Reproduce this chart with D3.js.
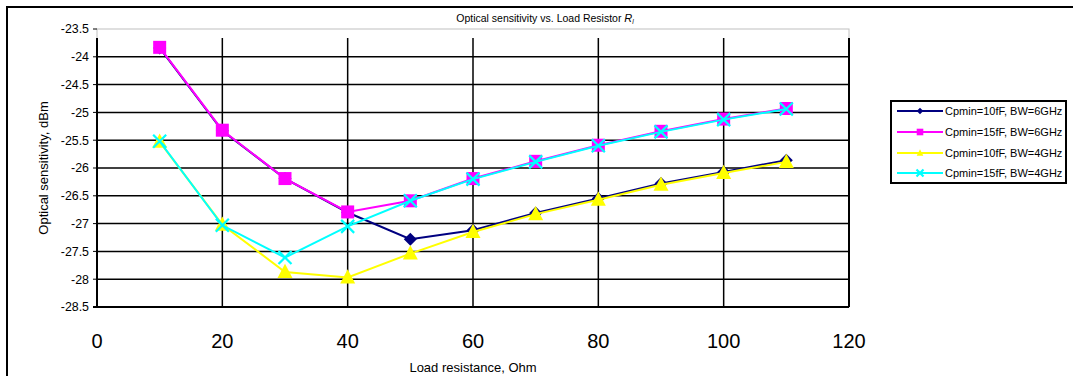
<!DOCTYPE html>
<html lang="en">
<head>
<meta charset="utf-8" />
<title>Optical sensitivity vs. Load Resistor</title>
<script src="https://d3js.org/d3.v7.min.js"></script>
<style>
body { margin: 0; background: #fff; }
svg { display: block; font-family: Arial, 'Liberation Sans', sans-serif; }
</style>
</head>
<body>
<svg width="1073" height="376"></svg>
<script>
// data
var loads = [10, 20, 30, 40, 50, 60, 70, 80, 90, 100, 110];
var c10bw6 = [-23.84, -25.33, -26.19, -26.80, -27.28, -27.12, -26.81, -26.55, -26.28, -26.07, -25.86];
var c15bw6 = [-23.83, -25.32, -26.19, -26.79, -26.59, -26.19, -25.88, -25.59, -25.34, -25.12, -24.93];
var c10bw4 = [-25.53, -27.02, -27.87, -27.97, -27.54, -27.15, -26.83, -26.57, -26.30, -26.09, -25.89];
var c15bw4 = [-25.52, -27.03, -27.61, -27.05, -26.59, -26.20, -25.89, -25.60, -25.35, -25.13, -24.94];
var seriesNames = ['Cpmin=10fF, BW=6GHz', 'Cpmin=15fF, BW=6GHz', 'Cpmin=10fF, BW=4GHz', 'Cpmin=15fF, BW=4GHz'];
var xTicks = [0, 20, 40, 60, 80, 100, 120];
var yTicks = [-23.5, -24, -24.5, -25, -25.5, -26, -26.5, -27, -27.5, -28, -28.5];

var series = [
  { name: seriesNames[0], values: c10bw6, color: '#000080', marker: 'diamond' },
  { name: seriesNames[1], values: c15bw6, color: '#ff00ff', marker: 'square' },
  { name: seriesNames[2], values: c10bw4, color: '#ffff00', marker: 'triangle' },
  { name: seriesNames[3], values: c15bw4, color: '#00ffff', marker: 'x' }
];

var svg = d3.select('svg');

// chart border (cropped at right/bottom)
svg.append('rect')
  .attr('x', 7).attr('y', 7)
  .attr('width', 1080).attr('height', 380)
  .attr('fill', 'none').attr('stroke', '#000').attr('stroke-width', 2);

var pLeft = 97, pRight = 849, pTop = 29, pBottom = 307, gridTop = 38;

var x = d3.scaleLinear().domain([0, 120]).range([pLeft, pRight]);
var y = d3.scaleLinear().domain([-28.5, -23.5]).range([pBottom, pTop]);

// plot area outline
svg.append('rect')
  .attr('x', pLeft).attr('y', pTop)
  .attr('width', pRight - pLeft).attr('height', pBottom - pTop)
  .attr('fill', 'none').attr('stroke', '#c0c0c0').attr('stroke-width', 1);

// horizontal gridlines
svg.append('g')
  .selectAll('line')
  .data(yTicks.filter(function (d) { return d < -23.5 && d > -28.5; }))
  .enter().append('line')
  .attr('x1', pLeft).attr('x2', pRight)
  .attr('y1', function (d) { return y(d); })
  .attr('y2', function (d) { return y(d); })
  .attr('stroke', '#000').attr('stroke-width', 1.5);

// vertical gridlines
svg.append('g')
  .selectAll('line')
  .data(xTicks.filter(function (d) { return d > 0; }))
  .enter().append('line')
  .attr('x1', function (d) { return x(d); })
  .attr('x2', function (d) { return x(d); })
  .attr('y1', gridTop).attr('y2', pBottom)
  .attr('stroke', '#000').attr('stroke-width', function (d) { return d === 120 ? 2 : 1.5; });

// axes lines
svg.append('line')
  .attr('x1', pLeft).attr('x2', pLeft).attr('y1', gridTop).attr('y2', pBottom)
  .attr('stroke', '#000').attr('stroke-width', 2);
svg.append('line')
  .attr('x1', pLeft - 4).attr('x2', pRight).attr('y1', pBottom).attr('y2', pBottom)
  .attr('stroke', '#000').attr('stroke-width', 2);

// y tick labels with small ticks
var yAxis = svg.append('g');
yAxis.selectAll('line')
  .data(yTicks)
  .enter().append('line')
  .attr('x1', pLeft - 4).attr('x2', pLeft)
  .attr('y1', function (d) { return y(d); })
  .attr('y2', function (d) { return y(d); })
  .attr('stroke', '#000').attr('stroke-width', 1);
yAxis.selectAll('text')
  .data(yTicks)
  .enter().append('text')
  .attr('x', pLeft - 8)
  .attr('y', function (d) { return y(d); })
  .attr('dy', '0.35em')
  .attr('text-anchor', 'end')
  .attr('font-size', 12.4)
  .text(function (d) { return d; });

// x tick labels
svg.append('g')
  .selectAll('text')
  .data(xTicks)
  .enter().append('text')
  .attr('x', function (d) { return x(d); })
  .attr('y', 341)
  .attr('dy', '0.35em')
  .attr('text-anchor', 'middle')
  .attr('font-size', 20)
  .text(function (d) { return d; });

// axis titles
svg.append('text')
  .attr('x', x(60)).attr('y', 367)
  .attr('dy', '0.35em')
  .attr('text-anchor', 'middle')
  .attr('font-size', 13)
  .text('Load resistance, Ohm');

svg.append('text')
  .attr('transform', 'translate(43,' + ((pTop + pBottom) / 2) + ') rotate(-90)')
  .attr('text-anchor', 'middle')
  .attr('dy', '0.35em')
  .attr('font-size', 13)
  .text('Optical sensitivity, dBm');

var title = svg.append('text')
  .attr('x', 545).attr('y', 18)
  .attr('dy', '0.35em')
  .attr('text-anchor', 'middle')
  .attr('font-size', 10.5);
title.append('tspan').text('Optical sensitivity vs. Load Resistor ');
title.append('tspan').attr('font-style', 'italic').attr('font-size', 11).text('R');
title.append('tspan').attr('font-style', 'italic').attr('font-size', 6.5).attr('dy', 2).text('l');

// marker drawing
function drawMarker(g, type, color, s) {
  if (type === 'diamond') {
    g.append('path')
      .attr('d', 'M0,' + (-s) + 'L' + s + ',0L0,' + s + 'L' + (-s) + ',0Z')
      .attr('fill', color);
  } else if (type === 'square') {
    g.append('rect')
      .attr('x', -s).attr('y', -s).attr('width', 2 * s).attr('height', 2 * s)
      .attr('fill', color);
  } else if (type === 'triangle') {
    g.append('path')
      .attr('d', 'M0,' + (-s * 1.1) + 'L' + s + ',' + (s * 0.8) + 'L' + (-s) + ',' + (s * 0.8) + 'Z')
      .attr('fill', color);
  } else {
    g.append('path')
      .attr('d', 'M' + (-s) + ',' + (-s) + 'L' + s + ',' + s + 'M' + s + ',' + (-s) + 'L' + (-s) + ',' + s)
      .attr('stroke', color).attr('stroke-width', 2.2).attr('fill', 'none');
  }
}

var sizes = { diamond: 6.5, square: 6.5, triangle: 7.5, x: 6.5 };

var line = d3.line()
  .x(function (d, i) { return x(loads[i]); })
  .y(function (d) { return y(d); });

series.forEach(function (s) {
  svg.append('path')
    .datum(s.values)
    .attr('d', line)
    .attr('fill', 'none')
    .attr('stroke', s.color)
    .attr('stroke-width', 2);
  s.values.forEach(function (v, i) {
    var g = svg.append('g').attr('transform', 'translate(' + x(loads[i]) + ',' + y(v) + ')');
    drawMarker(g, s.marker, s.color, sizes[s.marker]);
  });
});

// legend
var lg = svg.append('g');
lg.append('rect')
  .attr('x', 891).attr('y', 101).attr('width', 175).attr('height', 82)
  .attr('fill', '#fff').attr('stroke', '#000').attr('stroke-width', 2);
var legendY = [111, 132, 153, 173];
series.forEach(function (s, i) {
  var yy = legendY[i];
  lg.append('line')
    .attr('x1', 897).attr('x2', 943).attr('y1', yy).attr('y2', yy)
    .attr('stroke', s.color).attr('stroke-width', 2);
  var g = lg.append('g').attr('transform', 'translate(920,' + yy + ')');
  drawMarker(g, s.marker, s.color, s.marker === 'x' ? 3.5 : 3.3);
  lg.append('text')
    .attr('x', 945).attr('y', yy)
    .attr('dy', '0.35em')
    .attr('font-size', 11)
    .text(s.name);
});
</script>
</body>
</html>
